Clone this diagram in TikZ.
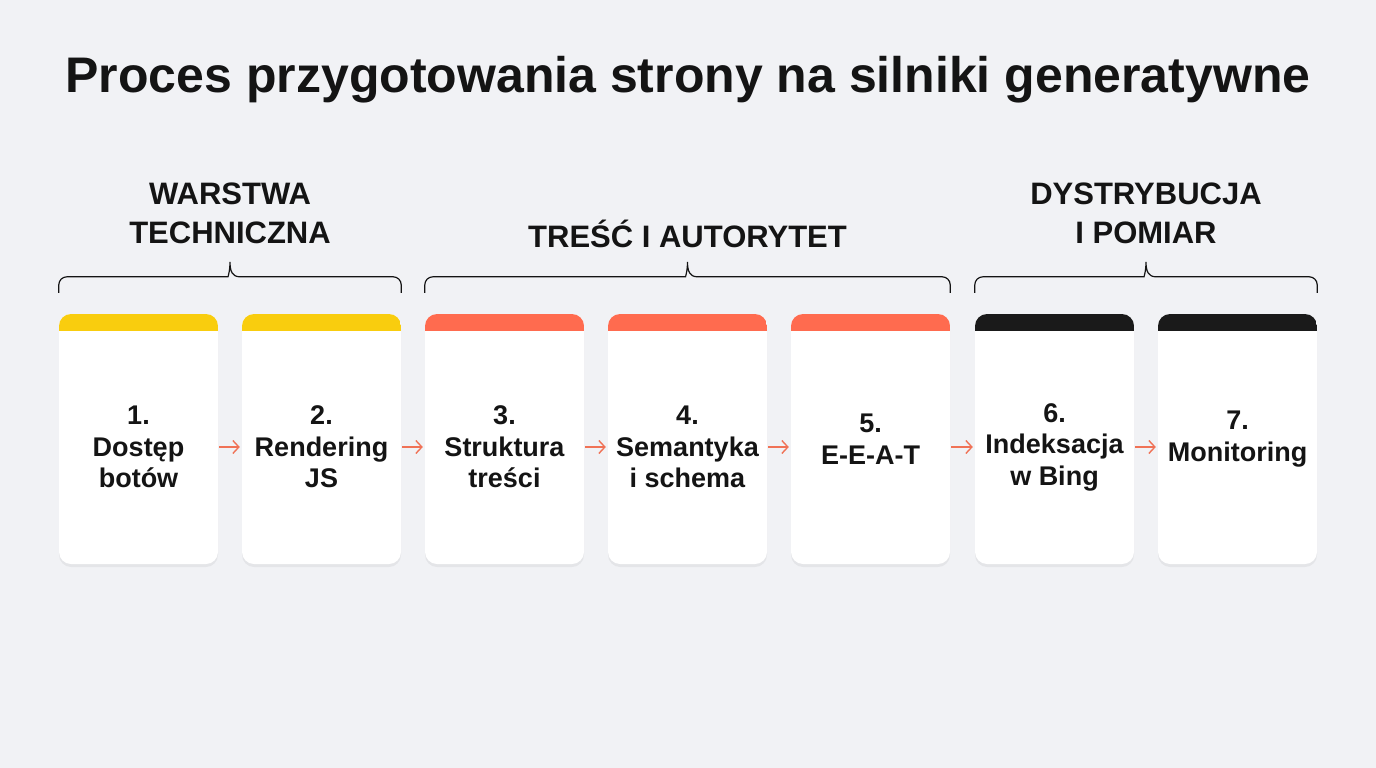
\documentclass[tikz,border=0pt]{standalone}
\usepackage{fontspec}
\setmainfont{Liberation Sans}
\usetikzlibrary{arrows.meta,shadows,calc}
\definecolor{bgcol}{HTML}{F1F2F5}
\definecolor{stepyellow}{HTML}{F9CD0E}
\definecolor{stepred}{HTML}{FF6B4F}
\definecolor{stepblack}{HTML}{1A1A1A}
\definecolor{inkcol}{HTML}{141414}
\definecolor{arrowcol}{HTML}{F07256}

\begin{document}
\begin{tikzpicture}[x=1pt,y=-1pt,
		card/.style={fill=white,rounded corners=12pt,minimum width=159pt,minimum height=250pt,
			drop shadow={shadow xshift=0pt,shadow yshift=-3pt,opacity=.05,fill=black},
			path picture={\fill[#1,sharp corners] (path picture bounding box.north west) rectangle ([yshift=-17pt]path picture bounding box.north east);}},
		cardtext/.style={align=center,text=inkcol,font=\fontsize{27}{31.5}\selectfont\bfseries},
		group/.style={align=center,text=inkcol,font=\fontsize{31}{39}\selectfont\bfseries},
		bracket/.style={draw=inkcol,line width=1.2pt,rounded corners=8pt},
		flow/.style={draw=arrowcol,line width=1.4pt,shorten <=1pt,shorten >=2pt,-{Straight Barb[length=6pt,width=13pt]}}]

	\useasboundingbox[fill=bgcol] (0,0) rectangle (1376,768);

	\node[text=inkcol,font=\fontsize{50}{58}\selectfont\bfseries] (title) at (688,80) {Proces przygotowania strony na silniki generatywne};

	% cards
	\node[card=stepyellow] (step-1) at (138.5,439) {};
	\node[card=stepyellow] (step-2) at (321.5,439) {};
	\node[card=stepred]    (step-3) at (504.5,439) {};
	\node[card=stepred]    (step-4) at (687.5,439) {};
	\node[card=stepred]    (step-5) at (870.5,439) {};
	\node[card=stepblack]  (step-6) at (1054.5,439) {};
	\node[card=stepblack]  (step-7) at (1237.5,439) {};

	\node[cardtext] (step-1-text) at ([yshift=-8pt]step-1.center) {1.\\Dostęp\\botów};
	\node[cardtext] (step-2-text) at ([yshift=-8pt]step-2.center) {2.\\Rendering\\JS};
	\node[cardtext] (step-3-text) at ([yshift=-8pt]step-3.center) {3.\\Struktura\\treści};
	\node[cardtext] (step-4-text) at ([yshift=-8pt]step-4.center) {4.\\Semantyka\\i schema};
	\node[cardtext] (step-5-text) at (step-5.center) {5.\\E-E-A-T};
	\node[cardtext] (step-6-text) at ([yshift=-8pt]step-6.center) {6.\\Indeksacja\\w Bing};
	\node[cardtext] (step-7-text) at (step-7.center) {7.\\Monitoring};

	\draw[flow] ([yshift=-8pt]step-1.east) -- ([yshift=-8pt]step-2.west);
	\draw[flow] ([yshift=-8pt]step-2.east) -- ([yshift=-8pt]step-3.west);
	\draw[flow] ([yshift=-8pt]step-3.east) -- ([yshift=-8pt]step-4.west);
	\draw[flow] ([yshift=-8pt]step-4.east) -- ([yshift=-8pt]step-5.west);
	\draw[flow] ([yshift=-8pt]step-5.east) -- ([yshift=-8pt]step-6.west);
	\draw[flow] ([yshift=-8pt]step-6.east) -- ([yshift=-8pt]step-7.west);

	% groups
	\coordinate (tech-l) at ($(step-1.north west)+(0,-21)$);
	\coordinate (tech-r) at ($(step-2.north east)+(0,-21)$);
	\coordinate (tech-m) at ($(tech-l)!.5!(tech-r)+(0,-31)$);
	\coordinate (tresc-l) at ($(step-3.north west)+(0,-21)$);
	\coordinate (tresc-r) at ($(step-5.north east)+(0,-21)$);
	\coordinate (tresc-m) at ($(tresc-l)!.5!(tresc-r)+(0,-31)$);
	\coordinate (dyst-l) at ($(step-6.north west)+(0,-21)$);
	\coordinate (dyst-r) at ($(step-7.north east)+(0,-21)$);
	\coordinate (dyst-m) at ($(dyst-l)!.5!(dyst-r)+(0,-31)$);

	\draw[bracket] (tech-l) |- ($(tech-m)+(-10,15)$) [sharp corners] .. controls +(8,0) and +(0,9) .. (tech-m)
		.. controls +(0,9) and +(-8,0) .. ($(tech-m)+(10,15)$) [rounded corners=8pt] -| (tech-r);
	\draw[bracket] (tresc-l) |- ($(tresc-m)+(-10,15)$) [sharp corners] .. controls +(8,0) and +(0,9) .. (tresc-m)
		.. controls +(0,9) and +(-8,0) .. ($(tresc-m)+(10,15)$) [rounded corners=8pt] -| (tresc-r);
	\draw[bracket] (dyst-l) |- ($(dyst-m)+(-10,15)$) [sharp corners] .. controls +(8,0) and +(0,9) .. (dyst-m)
		.. controls +(0,9) and +(-8,0) .. ($(dyst-m)+(10,15)$) [rounded corners=8pt] -| (dyst-r);

	\node[group] (tech) at ($(tech-m)+(0,-48)$) {WARSTWA\\TECHNICZNA};
	\node[group] (tresc) at ($(tresc-m)+(0,-28)$) {TREŚĆ I AUTORYTET};
	\node[group] (dyst) at ($(dyst-m)+(0,-48)$) {DYSTRYBUCJA\\I POMIAR};
\end{tikzpicture}
\end{document}
